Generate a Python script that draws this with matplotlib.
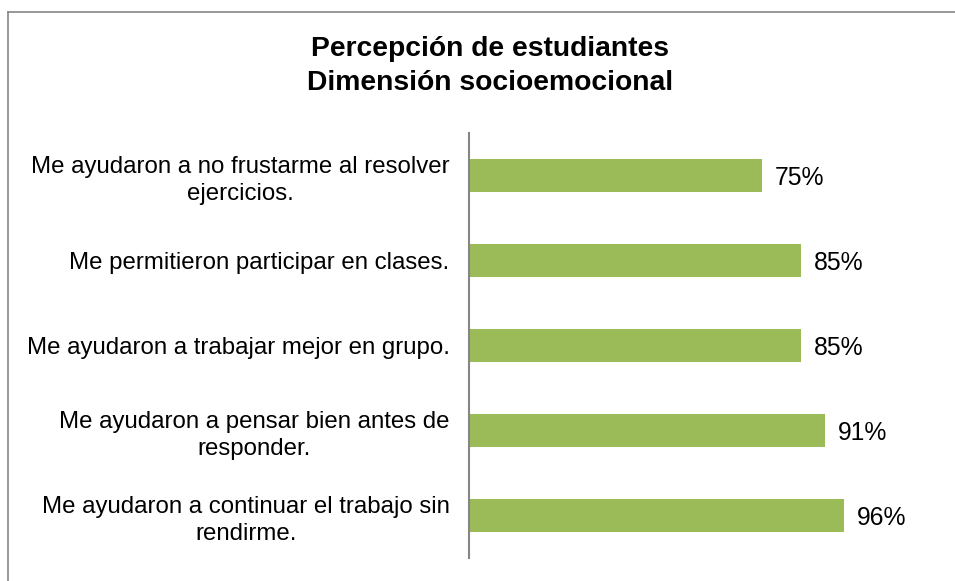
import matplotlib.pyplot as plt
from matplotlib.lines import Line2D

plt.rcParams['font.family'] = ['Liberation Sans', 'DejaVu Sans']

labels = ['Me ayudaron a no frustarme al resolver\nejercicios.',
          'Me permitieron participar en clases.',
          'Me ayudaron a trabajar mejor en grupo.',
          'Me ayudaron a pensar bien antes de\nresponder.',
          'Me ayudaron a continuar el trabajo sin\nrendirme.']
values = [0.75, 0.85, 0.85, 0.91, 0.96]
value_text = ['75%', '85%', '85%', '91%', '96%']

W, H = 955, 581
fig = plt.figure(figsize=(W / 100, H / 100), dpi=100)
ax = fig.add_axes([469 / W, 1 - 558 / H, (938 - 469) / W, (558 - 133) / H])

ypos = list(range(len(labels)))[::-1]
ax.barh(ypos, values, height=0.39, color='#9BBB59')
for y, v, t in zip(ypos, values, value_text):
    ax.text(v + 0.033, y - 0.03, t, va='center', ha='left', fontsize=17.8)

ax.set_xlim(0, 1.2)
ax.set_ylim(-0.5, len(labels) - 0.5)
ax.set_yticks(ypos)
ax.set_yticklabels(labels, fontsize=17.3, multialignment='center', linespacing=1.3)
ax.tick_params(axis='y', length=0, pad=14)
ax.set_xticks([])
for s in ['top', 'right', 'bottom']:
    ax.spines[s].set_visible(False)
ax.spines['left'].set_color('#868686')
ax.spines['left'].set_linewidth(1.5)

fig.text(490 / W, 1 - 66 / H, 'Percepción de estudiantes\nDimensión socioemocional',
         ha='center', va='center', fontsize=20.3, fontweight='bold', linespacing=1.4)

# chart border (top and left visible)
fig.add_artist(Line2D([8 / W, 1], [1 - 12 / H, 1 - 12 / H], color='#868686', lw=1.2))
fig.add_artist(Line2D([8 / W, 8 / W], [0, 1 - 12 / H], color='#868686', lw=1.2))

fig.savefig('out.png', dpi=100)
